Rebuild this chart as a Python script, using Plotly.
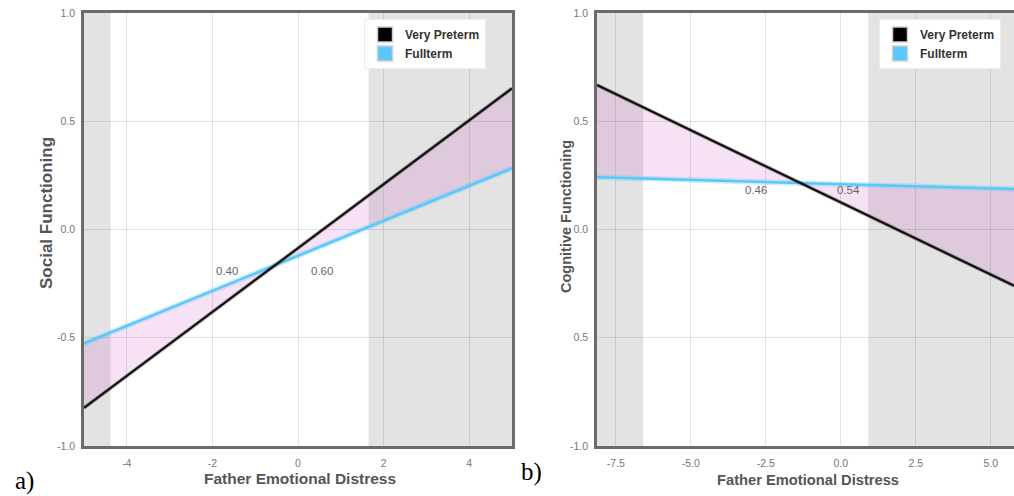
import plotly.graph_objects as go

# ---------------- data ----------------
social_x = [-5.0, 5.0]
social_very_preterm = [-0.824, 0.652]
social_fullterm = [-0.526, 0.283]
social_jn_bounds = [-4.38, 1.65]          # Johnson-Neyman region edges
social_props = ["0.40", "0.60"]
social_prop_x = [-1.65, 0.57]
social_prop_y = [-0.19, -0.19]

cog_x = [-8.13, 5.77]
cog_very_preterm = [0.667, -0.26]
cog_fullterm = [0.241, 0.187]
cog_jn_bounds = [-6.59, 0.91]
cog_props = ["0.46", "0.54"]
cog_prop_x = [-2.84, 0.25]
cog_prop_y = [0.182, 0.182]

social_xticks = [-4, -2, 0, 2, 4]
social_xticklabels = ["-4", "-2", "0", "2", "4"]
cog_xticks = [-7.5, -5.0, -2.5, 0.0, 2.5, 5.0]
cog_xticklabels = ["-7.5", "-5.0", "-2.5", "0.0", "2.5", "5.0"]
yticks = [-1.0, -0.5, 0.0, 0.5, 1.0]
social_yticklabels = ["-1.0", "-0.5", "0.0", "0.5", "1.0"]
cog_yticklabels = ["-1.0", "0.5", "0.0", "0.5", "1.0"]

# ---------------- style ----------------
W, H = 1014, 496
def px(x):
    return x / W
def py(y):
    return 1 - y / H

FONT = "Liberation Sans, Arial, Helvetica, sans-serif"
BLACK = "#111111"
BLUE = "#5ac8fa"
FILL = "rgba(200,60,190,0.15)"
SHADE = "#e3e3e3"
BORDER = "#6b6b6b"
GRID = "rgba(0,0,0,0.11)"
TICKC = "#777777"

fig = go.Figure()

def add_panel(xs, vp, ft, xa, ya, legend):
    # fill between the lines
    fig.add_trace(go.Scatter(x=xs, y=ft, mode="lines", line=dict(width=0),
                             showlegend=False, hoverinfo="skip", xaxis=xa, yaxis=ya))
    fig.add_trace(go.Scatter(x=xs, y=vp, mode="lines", line=dict(width=0),
                             fill="tonexty", fillcolor=FILL,
                             showlegend=False, hoverinfo="skip", xaxis=xa, yaxis=ya))
    # glow for fullterm
    fig.add_trace(go.Scatter(x=xs, y=ft, mode="lines",
                             line=dict(color="rgba(90,200,250,0.3)", width=5.5),
                             showlegend=False, hoverinfo="skip", xaxis=xa, yaxis=ya))
    fig.add_trace(go.Scatter(x=xs, y=ft, mode="lines", line=dict(color=BLUE, width=2.5),
                             showlegend=False, xaxis=xa, yaxis=ya))
    fig.add_trace(go.Scatter(x=xs, y=vp, mode="lines",
                             line=dict(color="rgba(0,0,0,0.25)", width=4),
                             showlegend=False, hoverinfo="skip", xaxis=xa, yaxis=ya))
    fig.add_trace(go.Scatter(x=xs, y=vp, mode="lines", line=dict(color=BLACK, width=2.2),
                             showlegend=False, xaxis=xa, yaxis=ya))
    # legend swatches
    fig.add_trace(go.Scatter(x=[None], y=[None], mode="markers", name="<b>Very Preterm</b>",
                             marker=dict(symbol="square", size=15, color="#000000",
                                         line=dict(color="#cfcfcf", width=1.5)),
                             legend=legend, xaxis=xa, yaxis=ya))
    fig.add_trace(go.Scatter(x=[None], y=[None], mode="markers", name="<b>Fullterm</b>",
                             marker=dict(symbol="square", size=15, color=BLUE,
                                         line=dict(color="#cfcfcf", width=1.5)),
                             legend=legend, xaxis=xa, yaxis=ya))

add_panel(social_x, social_very_preterm, social_fullterm, "x", "y", "legend")
add_panel(cog_x, cog_very_preterm, cog_fullterm, "x2", "y2", "legend2")

# shaded regions of significance
shapes = [
    dict(type="rect", xref="x", yref="y domain", x0=social_x[0], x1=social_jn_bounds[0],
         y0=0, y1=1, fillcolor=SHADE, line=dict(width=0), layer="below"),
    dict(type="rect", xref="x", yref="y domain", x0=social_jn_bounds[1], x1=social_x[1],
         y0=0, y1=1, fillcolor=SHADE, line=dict(width=0), layer="below"),
    dict(type="rect", xref="x2", yref="y2 domain", x0=cog_x[0], x1=cog_jn_bounds[0],
         y0=0, y1=1, fillcolor=SHADE, line=dict(width=0), layer="below"),
    dict(type="rect", xref="x2", yref="y2 domain", x0=cog_jn_bounds[1], x1=cog_x[1],
         y0=0, y1=1, fillcolor=SHADE, line=dict(width=0), layer="below"),
]

annotations = []
for t, x, y in zip(social_props, social_prop_x, social_prop_y):
    annotations.append(dict(text=t, x=x, y=y, xref="x", yref="y", showarrow=False,
                            font=dict(family=FONT, size=11.5, color="#666666")))
for t, x, y in zip(cog_props, cog_prop_x, cog_prop_y):
    annotations.append(dict(text=t, x=x, y=y, xref="x2", yref="y2", showarrow=False,
                            font=dict(family=FONT, size=11.5, color="#666666")))

def ann(text, x, y, size, angle=0, family=FONT, color="#555555", bold=True):
    annotations.append(dict(text=f"<b>{text}</b>" if bold else text, x=px(x), y=py(y),
                            xref="paper", yref="paper", showarrow=False, textangle=angle,
                            xanchor="center", yanchor="middle",
                            font=dict(family=family, size=size, color=color)))

ann("Social Functioning", 46, 213, 17, angle=-90)
ann("Cognitive Functioning", 566, 217, 14.5, angle=-90)
ann("Father Emotional Distress", 300, 478, 15.5)
ann("Father Emotional Distress", 808, 480, 14.7)
ann("a)", 24, 481, 25, family="Liberation Serif, Times New Roman, serif", color="#000000", bold=False)
ann("b)", 531, 472, 25, family="Liberation Serif, Times New Roman, serif", color="#000000", bold=False)

common_x = dict(showgrid=True, gridcolor=GRID, gridwidth=1, zeroline=False,
                showline=True, linecolor=BORDER, linewidth=2.5, mirror=True,
                ticks="outside", ticklen=6, tickcolor="rgba(0,0,0,0)",
                tickfont=dict(family=FONT, size=10.5, color=TICKC), automargin=False)
common_y = dict(showgrid=True, gridcolor=GRID, gridwidth=1, zeroline=False,
                showline=True, linecolor=BORDER, linewidth=2.5,
                ticks="outside", ticklen=4, tickcolor="rgba(0,0,0,0)",
                tickfont=dict(family=FONT, size=10.5, color=TICKC), automargin=False,
                range=[-1, 1], tickvals=yticks)

legend_common = dict(xanchor="right", yanchor="top", bgcolor="white",
                     bordercolor="#ececec", borderwidth=1, traceorder="normal",
                     font=dict(family=FONT, size=12, color="#333333"), itemwidth=30,
                     tracegroupgap=0)

fig.update_layout(
    width=W, height=H,
    margin=dict(l=0, r=0, t=0, b=0),
    paper_bgcolor="white", plot_bgcolor="rgba(0,0,0,0)",
    xaxis=dict(**common_x, domain=[px(84), px(512)], range=[social_x[0], social_x[1]],
               tickvals=social_xticks, ticktext=social_xticklabels),
    yaxis=dict(**common_y, domain=[py(446), py(13)], ticktext=social_yticklabels,
               mirror=True, anchor="x"),
    xaxis2=dict(**common_x, domain=[px(597), 1.0], range=[cog_x[0], cog_x[1]],
                tickvals=cog_xticks, ticktext=cog_xticklabels, anchor="y2"),
    yaxis2=dict(**common_y, domain=[py(446), py(13)], ticktext=cog_yticklabels,
                mirror=False, anchor="x2"),
    legend=dict(**legend_common, x=px(486), y=py(19)),
    legend2=dict(**legend_common, x=px(1001), y=py(19)),
    shapes=shapes,
    annotations=annotations,
    showlegend=True,
)

fig.write_html("out.html", config={"displayModeBar": False},
               post_script="document.body.style.margin='0';document.body.style.overflow='hidden';")
